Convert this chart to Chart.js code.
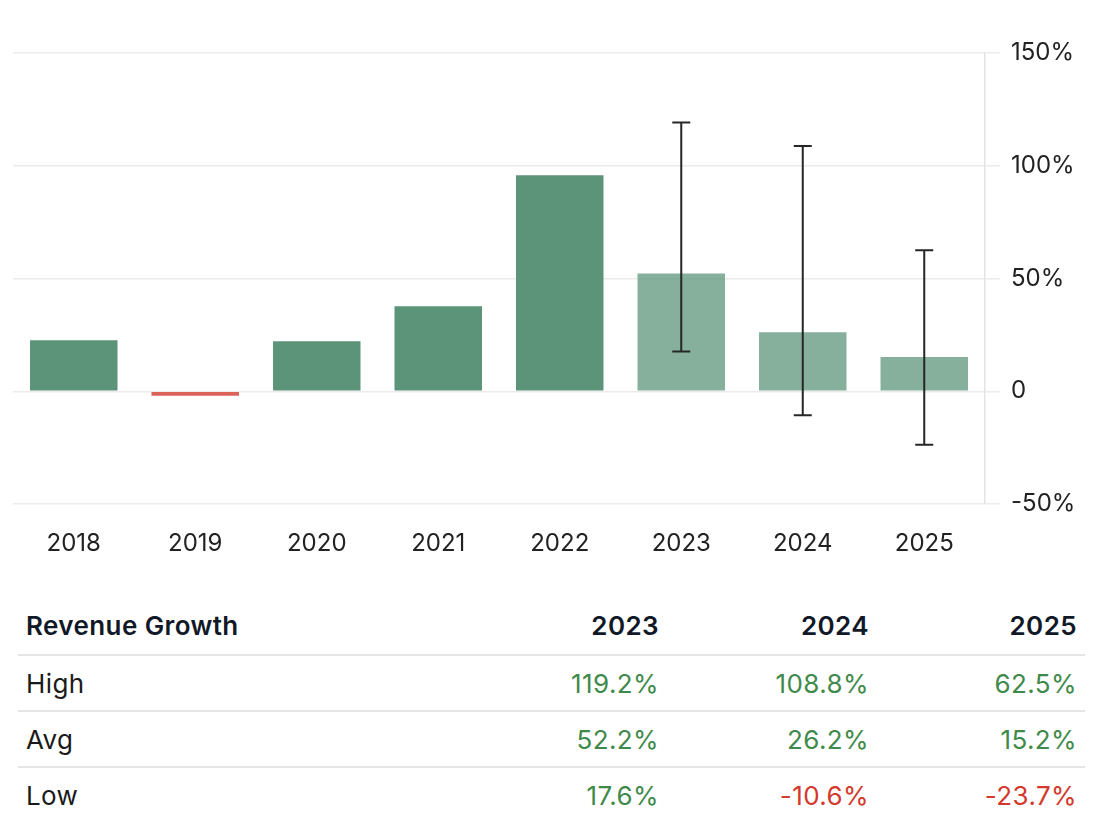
<!DOCTYPE html>
<html>
<head>
<meta charset="utf-8">
<script src="https://cdn.jsdelivr.net/npm/chart.js@4.4.1/dist/chart.umd.min.js"></script>
<style>
  html, body { margin: 0; padding: 0; background: #fff; }
  body { width: 1102px; height: 834px; position: relative; font-family: Inter, "Noto Sans", sans-serif; }
  #wrap { position: absolute; left: 0; top: 0; width: 1102px; height: 570px; }
  table { position: absolute; left: 18px; top: 597px; width: 1067px; border-collapse: collapse; font-size: 26px; letter-spacing: 0.4px; table-layout: fixed; }
  th, td { height: 54px; padding: 0 8px; text-align: right; border-bottom: 2px solid #e5e5e8; }
  th { font-weight: 600; color: #111827; height: 57px; }
  tr:last-child td { border-bottom: none; }
  th:first-child, td:first-child { text-align: left; }
  td:first-child { color: #1a1a1a; }
  .pos { color: #3f8a4a; }
  .neg { color: #d3392c; }
</style>
</head>
<body>
<div id="wrap"><canvas id="myChart"></canvas></div>
<table id="tbl">
  <colgroup><col><col style="width:210px"><col style="width:210px"><col style="width:208px"></colgroup>
  <tbody id="tbody"></tbody>
</table>
<script>
// Dados do gráfico
const years = ['2018', '2019', '2020', '2021', '2022', '2023', '2024', '2025'];
const growth = [22.6, -2.0, 22.2, 37.7, 95.8, 52.2, 26.2, 15.2];
const highs = [null, null, null, null, null, 119.2, 108.8, 62.5];
const lows = [null, null, null, null, null, 17.6, -10.6, -23.7];
const forecastYears = ['2023', '2024', '2025'];
const tableRows = ['High', 'Avg', 'Low'];
const yTicks = [-50, 0, 50, 100, 150];

// Cores: histórico escuro, previsão clara, negativo vermelho
const barColors = growth.map((v, i) => {
    if (v < 0) return '#db6359';
    return highs[i] !== null ? 'rgba(92,148,121,0.74)' : '#5c9479';
});

// Barras de erro (high / low)
const errorBars = {
    id: 'errorBars',
    afterDatasetsDraw(chart) {
        const { ctx, scales: { x, y } } = chart;
        ctx.save();
        ctx.strokeStyle = '#262626';
        ctx.lineWidth = 2;
        highs.forEach((h, i) => {
            if (h === null) return;
            const px = x.getPixelForValue(i);
            const yh = y.getPixelForValue(h);
            const yl = y.getPixelForValue(lows[i]);
            ctx.beginPath();
            ctx.moveTo(px, yh); ctx.lineTo(px, yl);
            ctx.moveTo(px - 9, yh); ctx.lineTo(px + 9, yh);
            ctx.moveTo(px - 9, yl); ctx.lineTo(px + 9, yl);
            ctx.stroke();
        });
        ctx.restore();
    }
};

const ctx = document.getElementById('myChart').getContext('2d');
new Chart(ctx, {
    type: 'bar',
    data: {
        labels: years,
        datasets: [{
            data: growth,
            backgroundColor: barColors,
            borderWidth: 0,
            barPercentage: 0.72,
            categoryPercentage: 1.0
        }]
    },
    options: {
        responsive: true,
        maintainAspectRatio: false,
        animation: false,
        layout: { padding: { left: 13, top: 53, right: 0, bottom: 0 } },
        scales: {
            x: {
                grid: { display: false, drawTicks: false },
                border: { display: false },
                ticks: { color: '#222', font: { family: 'Inter', size: 24 }, padding: 25 },
                afterFit(scale) { scale.height = 66; }
            },
            y: {
                position: 'right',
                min: -50,
                max: 150,
                afterBuildTicks(scale) { scale.ticks = yTicks.map(v => ({ value: v })); },
                grid: { color: '#ebebeb', lineWidth: 1.5, tickLength: 15 },
                border: { color: '#e3e3e3', width: 1.5 },
                ticks: {
                    color: '#222',
                    padding: 11,
                    font: { family: 'Inter', size: 24 },
                    callback: v => v === 0 ? '0' : v + '%'
                },
                afterFit(scale) { scale.width = 117; }
            }
        },
        plugins: {
            legend: { display: false },
            tooltip: { enabled: false }
        }
    },
    plugins: [errorBars]
});

// Tabela de previsões
const rowVals = {
    High: forecastYears.map(yr => highs[years.indexOf(yr)]),
    Avg: forecastYears.map(yr => growth[years.indexOf(yr)]),
    Low: forecastYears.map(yr => lows[years.indexOf(yr)])
};
let html = '<tr><th>Revenue Growth</th>' + forecastYears.map(y => `<th>${y}</th>`).join('') + '</tr>';
tableRows.forEach(r => {
    html += `<tr><td>${r}</td>` + rowVals[r].map(v =>
        `<td class="${v < 0 ? 'neg' : 'pos'}">${v.toFixed(1)}%</td>`).join('') + '</tr>';
});
document.getElementById('tbody').innerHTML = html;
</script>
</body>
</html>
